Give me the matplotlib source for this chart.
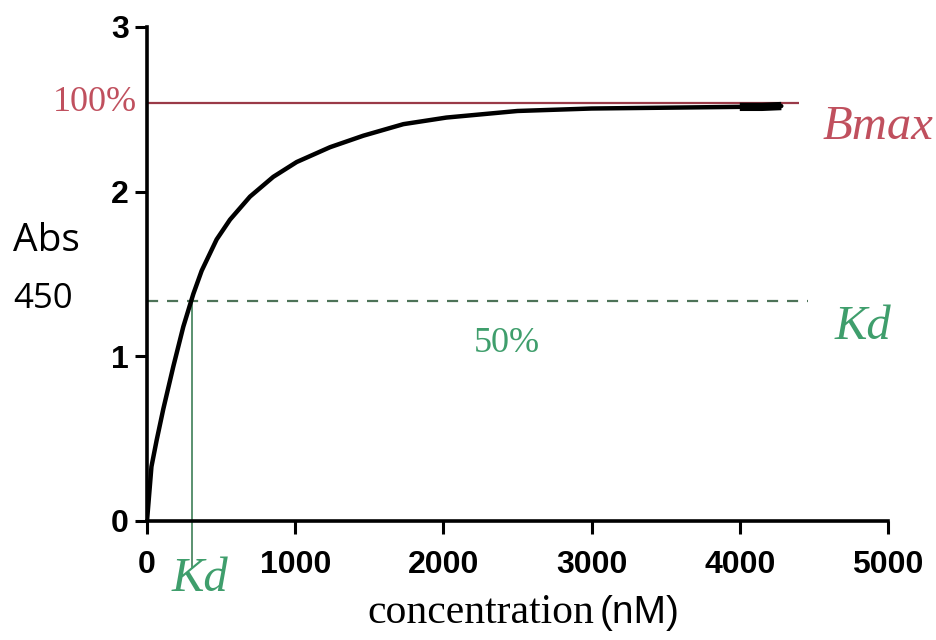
#!/usr/bin/env python3
"""Saturation binding curve (Abs 450 vs concentration) with Bmax and Kd marked."""

import matplotlib
matplotlib.use('Agg')
import matplotlib.pyplot as plt

# Values
conc = [0, 30, 65, 110, 178, 245, 313, 369, 470, 560, 695, 852, 1010, 1235,
        1460, 1730, 2020, 2500, 3000, 3500, 4000, 4150, 4280]
abs450 = [0, 0.33, 0.49, 0.68, 0.94, 1.18, 1.38, 1.52, 1.71, 1.83, 1.97, 2.09,
          2.18, 2.27, 2.34, 2.41, 2.45, 2.49, 2.505, 2.51, 2.515, 2.515, 2.52]

bmax = 2.54          # 100% line
bmax_end = 4400      # where the Bmax line stops
half_sat = 1.335     # 50% line
half_end = 4460
kd = 302             # nM

x_ticks = [0, 1000, 2000, 3000, 4000, 5000]
y_ticks = [0, 1, 2, 3]

RED = '#c0505e'
RED_LINE = '#9a3a48'
GREEN = '#3f9e6c'
GREEN_LINE = '#5a9270'
GREEN_DASH = '#4d7358'

fig = plt.figure(figsize=(9.37, 6.4), dpi=100)
ax = fig.add_axes([147 / 937, 1 - 521 / 640, (888 - 147) / 937, (521 - 27) / 640])

# reference lines
ax.hlines(bmax, 0, bmax_end, color=RED_LINE, lw=1.6, zorder=2)
ax.hlines(half_sat, 0, half_end, color=GREEN_DASH, lw=1.6, linestyles=(0, (5, 4)), zorder=2)
ax.axvline(kd, ymin=-0.095, ymax=half_sat / 3, color=GREEN_LINE, lw=1.4,
           clip_on=False, zorder=2)

# binding curve
ax.plot(conc, abs450, color='black', lw=3.2, solid_capstyle='round', zorder=3)
ax.plot(conc[-3:], abs450[-3:], color='black', lw=6, solid_capstyle='butt', zorder=3)

ax.set_xlim(0, 5000)
ax.set_ylim(0, 3)
ax.set_xticks(x_ticks)
ax.set_yticks(y_ticks)
ax.set_xticklabels([str(v) for v in x_ticks], fontfamily='Liberation Sans',
                   fontweight='bold', fontsize=23)
ax.set_yticklabels([str(v) for v in y_ticks], fontfamily='Liberation Sans',
                   fontweight='bold', fontsize=23)
ax.tick_params(axis='both', direction='out', length=9, width=2.2, color='black')
ax.tick_params(axis='x', pad=12)
ax.tick_params(axis='y', pad=4)
for side in ['top', 'right']:
    ax.spines[side].set_visible(False)
for side in ['left', 'bottom']:
    ax.spines[side].set_linewidth(2.6)

serif = 'Liberation Serif'
ax.text(-65, bmax, '100%', color=RED, fontsize=26, fontfamily=serif,
        ha='right', va='center', clip_on=False)
ax.text(4560, 2.39, 'Bmax', color=RED, fontsize=35, fontfamily=serif,
        fontstyle='italic', ha='left', va='center', clip_on=False)
ax.text(4640, 1.18, 'Kd', color=GREEN, fontsize=35, fontfamily=serif,
        fontstyle='italic', ha='left', va='center', clip_on=False)
ax.text(2430, 1.08, '50%', color=GREEN, fontsize=26, fontfamily=serif,
        ha='center', va='center')
ax.text(358, -0.35, 'Kd', color=GREEN, fontsize=35, fontfamily=serif,
        fontstyle='italic', ha='center', va='center', clip_on=False)

# axis titles
fig.text(594 / 937, 1 - 623 / 640, 'concentration', fontsize=30, fontfamily=serif,
         ha='right', va='baseline')
fig.text(600 / 937, 1 - 623 / 640, '(nM)', fontsize=28, fontfamily='Liberation Sans',
         ha='left', va='baseline')
fig.text(13 / 937, 1 - 241 / 640, 'Abs', fontsize=28, fontfamily='Open Sans',
         ha='left', va='center')
fig.text(13 / 937, 1 - 299 / 640, '450', fontsize=25, fontfamily='Open Sans',
         ha='left', va='center')

plt.savefig('out.png', dpi=100)
plt.close()
